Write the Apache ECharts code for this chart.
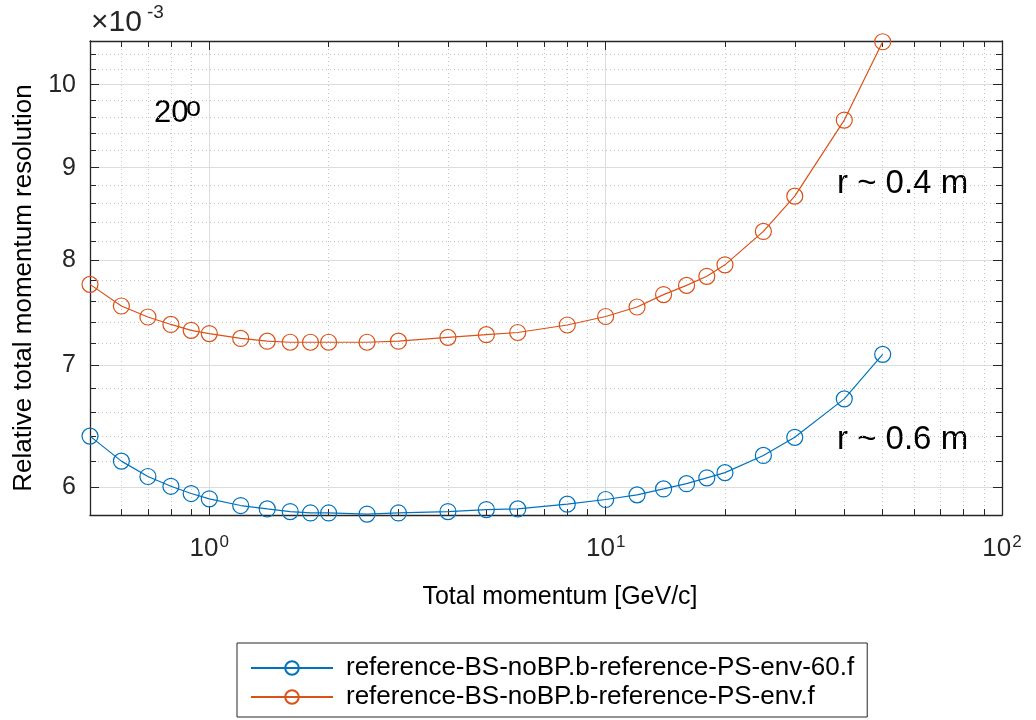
<!DOCTYPE html>
<html>
<head>
<meta charset="utf-8">
<title>Relative total momentum resolution</title>
<script src="https://cdn.jsdelivr.net/npm/echarts@6.0.0/dist/echarts.min.js"></script>
<style>
  html, body { margin: 0; padding: 0; background: #fff; }
  #chart { width: 1036px; height: 720px; }
</style>
</head>
<body>
<div id="chart"></div>
<script>
// total momentum [GeV/c]
var momentum = [0.5, 0.6, 0.7, 0.8, 0.9, 1, 1.2, 1.4, 1.6, 1.8, 2, 2.5, 3, 4, 5, 6, 8, 10, 12, 14, 16, 18, 20, 25, 30, 40, 50]
// relative resolution, in units of 1e-3
var resBlue = [6.40, 6.20, 6.08, 6.005, 5.95, 5.91, 5.86, 5.835, 5.815, 5.805, 5.805, 5.797, 5.805, 5.815, 5.83, 5.835, 5.87, 5.905, 5.94, 5.985, 6.025, 6.07, 6.11, 6.245, 6.39, 6.71, 7.10]
var resOrange = [7.76, 7.55, 7.445, 7.375, 7.32, 7.29, 7.245, 7.22, 7.21, 7.21, 7.21, 7.21, 7.22, 7.255, 7.28, 7.30, 7.37, 7.45, 7.54, 7.66, 7.75, 7.84, 7.955, 8.30, 8.68, 9.56, 10.56]
var seriesNames = ['reference-BS-noBP.b-reference-PS-env-60.f', 'reference-BS-noBP.b-reference-PS-env.f']

var xMajor = [1, 10, 100]
var xMinor = [0.6, 0.7, 0.8, 0.9, 2, 3, 4, 5, 6, 7, 8, 9, 20, 30, 40, 50, 60, 70, 80, 90]
var yMajor = [6, 7, 8, 9, 10]
var yMinor = [6.2, 6.4, 6.6, 6.8, 7.2, 7.4, 7.6, 7.8, 8.2, 8.4, 8.6, 8.8, 9.2, 9.4, 9.6, 9.8, 10.2, 10.4]

var X_MIN = 0.5, X_MAX = 100
var Y_MIN = 5.79, Y_MAX = 10.57

var BLUE = '#0072BD'
var ORANGE = '#D95319'
var AXIS = '#262626'
var FONT = '"Liberation Sans", Arial, Helvetica, sans-serif'

var chart = echarts.init(document.getElementById('chart'), null, { renderer: 'canvas' })

function pairs (ys) {
  return momentum.map(function (x, i) { return [x, ys[i]] })
}

// one helper for the stacked x / y axes (box lines, ticks, grid)
function logAxis (extra, min, max) {
  var base = {
    type: 'log',
    logBase: 10,
    min: min,
    max: max,
    axisLine: { show: false, onZero: false },
    axisTick: { show: false },
    axisLabel: { show: false },
    splitLine: { show: false },
    minorTick: { show: false },
    minorSplitLine: { show: false }
  }
  return Object.assign(base, extra)
}

var option = {
  animation: false,
  backgroundColor: '#fff',
  grid: { left: 90, right: 34, top: 41, bottom: 205, outerBoundsMode: 'none' },
  legend: {
    orient: 'vertical',
    left: 237,
    top: 643,
    padding: [12, 13, 7, 13],
    itemGap: 3,
    itemWidth: 82,
    itemHeight: 17,
    selectedMode: false,
    backgroundColor: '#fff',
    borderColor: AXIS,
    borderWidth: 1,
    borderRadius: 0,
    textStyle: { fontFamily: FONT, fontSize: 26, lineHeight: 26, color: '#000', padding: [0, 0, 0, 8] },
    data: seriesNames
  },
  xAxis: [
    logAxis({
      position: 'bottom',
      name: 'Total momentum [GeV/c]',
      nameLocation: 'middle',
      nameGap: 70,
      nameTextStyle: { fontFamily: FONT, fontSize: 25, color: '#000', padding: [0, 0, 0, 28] },
      axisLine: { show: true, onZero: false, lineStyle: { color: AXIS, width: 1.3 } },
      axisTick: { show: true, inside: true, length: 9, customValues: xMajor, lineStyle: { color: AXIS } },
      axisLabel: {
        show: true,
        customValues: xMajor,
        margin: 19,
        formatter: function (v) { return '{b|10}{s|' + Math.round(Math.log10(v)) + '}' },
        rich: {
          b: { fontFamily: FONT, fontSize: 26, color: AXIS, lineHeight: 30 },
          s: { fontFamily: FONT, fontSize: 17, color: AXIS, lineHeight: 17, padding: [0, 0, 13, 1] }
        }
      },
      splitLine: { show: true, lineStyle: { color: '#dcdcdc', width: 1 } }
    }, X_MIN, X_MAX),
    logAxis({
      position: 'top',
      axisLine: { show: true, onZero: false, lineStyle: { color: AXIS, width: 1.3 } },
      axisTick: { show: true, inside: true, length: 9, customValues: xMajor, lineStyle: { color: AXIS } }
    }, X_MIN, X_MAX),
    logAxis({
      position: 'bottom',
      axisTick: { show: true, inside: true, length: 6, customValues: xMinor, lineStyle: { color: AXIS } },
      splitLine: { show: true, lineStyle: { color: '#c4c4c4', width: 1, type: [1, 3] } }
    }, X_MIN, X_MAX),
    logAxis({
      position: 'top',
      axisTick: { show: true, inside: true, length: 6, customValues: xMinor, lineStyle: { color: AXIS } }
    }, X_MIN, X_MAX)
  ],
  yAxis: [
    logAxis({
      position: 'left',
      name: 'Relative total momentum resolution',
      nameLocation: 'middle',
      nameRotate: 90,
      nameGap: 52,
      nameTextStyle: { fontFamily: FONT, fontSize: 26, color: '#000', padding: [0, 20, 0, 0] },
      axisLine: { show: true, onZero: false, lineStyle: { color: AXIS, width: 1.3 } },
      axisTick: { show: true, inside: true, length: 9, customValues: yMajor, lineStyle: { color: AXIS } },
      axisLabel: {
        show: true,
        customValues: yMajor,
        margin: 14,
        fontFamily: FONT,
        fontSize: 25,
        color: AXIS,
        formatter: function (v) { return String(Math.round(v)) }
      },
      splitLine: { show: true, lineStyle: { color: '#dcdcdc', width: 1 } }
    }, Y_MIN, Y_MAX),
    logAxis({
      position: 'right',
      axisLine: { show: true, onZero: false, lineStyle: { color: AXIS, width: 1.3 } },
      axisTick: { show: true, inside: true, length: 9, customValues: yMajor, lineStyle: { color: AXIS } }
    }, Y_MIN, Y_MAX),
    logAxis({
      position: 'left',
      axisTick: { show: true, inside: true, length: 6, customValues: yMinor, lineStyle: { color: AXIS } },
      splitLine: { show: true, lineStyle: { color: '#c4c4c4', width: 1, type: [1, 3] } }
    }, Y_MIN, Y_MAX),
    logAxis({
      position: 'right',
      axisTick: { show: true, inside: true, length: 6, customValues: yMinor, lineStyle: { color: AXIS } }
    }, Y_MIN, Y_MAX)
  ],
  series: [
    {
      name: seriesNames[0],
      type: 'line',
      xAxisIndex: 0,
      yAxisIndex: 0,
      data: pairs(resBlue),
      symbol: 'circle',
      symbolSize: 16,
      clip: false,
      lineStyle: { color: BLUE, width: 1.2 },
      itemStyle: { color: 'rgba(255,255,255,0)', borderColor: BLUE, borderWidth: 1.2 },
      emphasis: { disabled: true }
    },
    {
      name: seriesNames[1],
      type: 'line',
      xAxisIndex: 0,
      yAxisIndex: 0,
      data: pairs(resOrange),
      symbol: 'circle',
      symbolSize: 16,
      clip: false,
      lineStyle: { color: ORANGE, width: 1.2 },
      itemStyle: { color: 'rgba(255,255,255,0)', borderColor: ORANGE, borderWidth: 1.2 },
      emphasis: { disabled: true }
    }
  ],
  graphic: [
    // exponent of the y axis
    { type: 'text', left: 91, top: 8, style: { text: '×10', font: '30px ' + FONT, fill: AXIS } },
    { type: 'text', left: 147, top: 3, style: { text: '-3', font: '19px ' + FONT, fill: AXIS } },
    // annotations
    { type: 'text', left: 154, top: 98, style: { text: '20', font: '31px ' + FONT, fill: '#000' } },
    { type: 'text', left: 186, top: 95, style: { text: 'o', font: '27px ' + FONT, fill: '#000' } },
    { type: 'text', left: 837, top: 167, style: { text: 'r ~ 0.4 m', font: '33px ' + FONT, fill: '#000' } },
    { type: 'text', left: 837, top: 423, style: { text: 'r ~ 0.6 m', font: '33px ' + FONT, fill: '#000' } }
  ]
}

chart.setOption(option)
window.onresize = function () {
  chart.resize()
}
</script>
</body>
</html>
